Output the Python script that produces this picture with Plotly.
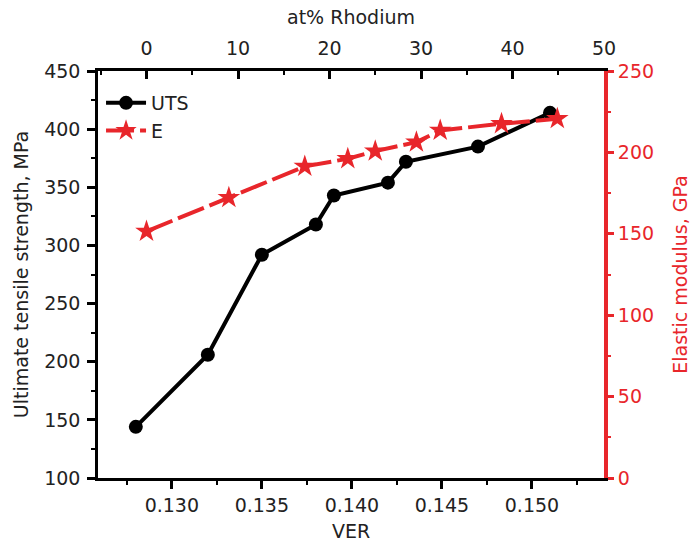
import plotly.graph_objects as go

# UTS vs VER (bottom / left axes)
ver = [0.128, 0.132, 0.135, 0.138, 0.139, 0.142, 0.143, 0.147, 0.151]
uts = [144, 206, 292, 318, 343, 354, 372, 385, 414]

# E vs at% Rh (top / right axes)
rh = [0.0, 9.0, 17.3, 22.0, 25.0, 29.5, 32.1, 38.8, 44.9]
emod = [151.5, 172.2, 191.4, 196.1, 200.8, 206.3, 213.5, 217.6, 220.7]

BLACK = "#000000"
RED = "#e8262b"
TXT = "#222222"
FONT = "DejaVu Sans"
FS = 19

fig = go.Figure()
fig.add_trace(go.Scatter(
    x=ver, y=uts, name="UTS", mode="lines+markers",
    line=dict(color=BLACK, width=4),
    marker=dict(symbol="circle", size=14, color=BLACK),
    xaxis="x", yaxis="y",
))
fig.add_trace(go.Scatter(
    x=rh, y=emod, name="E", mode="lines+markers",
    line=dict(color=RED, width=4, dash="28px,6px"),
    marker=dict(symbol="star", size=17, color=RED),
    xaxis="x2", yaxis="y2",
))

fig.update_layout(
    width=691, height=542,
    margin=dict(l=98, r=87, t=71, b=64),
    paper_bgcolor="white", plot_bgcolor="white",
    font=dict(family=FONT, size=FS, color=TXT),
    showlegend=True,
    legend=dict(x=0.006, y=0.968, xanchor="left", yanchor="top",
                bgcolor="rgba(0,0,0,0)", font=dict(size=FS, color=TXT),
                itemwidth=40, tracegroupgap=0),
    xaxis=dict(
        range=[0.1259, 0.1540], dtick=0.005, tick0=0.13, tickformat=".3f",
        showgrid=False, zeroline=False, automargin=False,
        showline=True, linecolor=BLACK, linewidth=2.5,
        ticks="outside", ticklen=8, tickwidth=2.5, tickcolor=BLACK,
        minor=dict(dtick=0.0025, tick0=0.1275, ticks="outside", ticklen=4, tickwidth=2, tickcolor=BLACK),
        title=dict(text="VER", font=dict(size=FS, color=TXT), standoff=13),
        tickfont=dict(size=FS, color=TXT),
        anchor="y",
    ),
    xaxis2=dict(
        range=[-5.3, 50.0], dtick=10, tick0=0,
        overlaying="x", side="top", anchor="y",
        showgrid=False, zeroline=False, automargin=False,
        showline=True, linecolor=BLACK, linewidth=2.5,
        ticks="inside", ticklen=8, tickwidth=2.5, tickcolor=BLACK,
        ticklabelstandoff=6,
        minor=dict(dtick=5, tick0=5, ticks="inside", ticklen=4, tickwidth=2, tickcolor=BLACK),
        title=dict(text="at% Rhodium", font=dict(size=FS, color=TXT), standoff=8),
        tickfont=dict(size=FS, color=TXT),
    ),
    yaxis=dict(
        range=[100, 450], dtick=50, tick0=100,
        showgrid=False, zeroline=False, automargin=False,
        showline=True, linecolor=BLACK, linewidth=2.5,
        ticks="outside", ticklen=8, tickwidth=2.5, tickcolor=BLACK,
        ticklabelstandoff=3,
        minor=dict(dtick=25, tick0=125, ticks="outside", ticklen=4, tickwidth=2, tickcolor=BLACK),
        title=dict(text="Ultimate tensile strength, MPa", font=dict(size=FS, color=TXT), standoff=11),
        tickfont=dict(size=FS, color=TXT),
        anchor="x",
    ),
    yaxis2=dict(
        range=[0, 250], dtick=50, tick0=0,
        overlaying="y", side="right", anchor="x2",
        showgrid=False, zeroline=False, automargin=False,
        showline=True, linecolor=RED, linewidth=4,
        ticks="outside", ticklen=6, tickwidth=2.5, tickcolor=RED,
        minor=dict(dtick=25, tick0=25, ticks="outside", ticklen=3, tickwidth=2, tickcolor=RED),
        title=dict(text="Elastic modulus, GPa", font=dict(size=FS, color=RED), standoff=24),
        tickfont=dict(size=FS, color=RED),
    ),
)

fig.write_html("out.html", config={"displayModeBar": False},
               post_script="document.body.style.margin='0';")
